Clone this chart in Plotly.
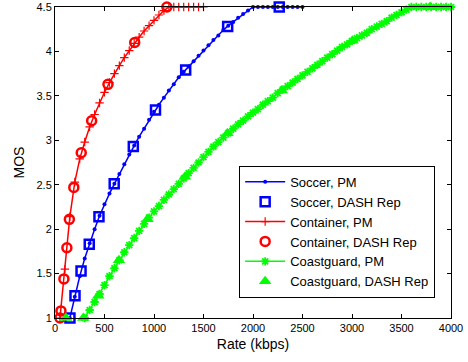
import plotly.graph_objects as go

# ---------------- data ----------------
soccer_pm_rate = [150, 200, 250, 300, 350, 400, 450, 500, 550, 600, 650, 700, 750, 800, 850, 900, 950,
                  1000, 1050, 1100, 1150, 1200, 1250, 1300, 1350, 1400, 1450, 1500, 1550, 1600, 1650,
                  1700, 1750, 1800, 1850, 1900, 1950, 2000, 2050, 2100, 2150, 2200, 2250, 2300, 2350,
                  2400, 2450, 2500]
soccer_pm_mos = [1.00, 1.24, 1.47, 1.67, 1.84, 2.00, 2.15, 2.28, 2.40, 2.51, 2.62, 2.73, 2.84, 2.94, 3.04,
                 3.13, 3.23, 3.32, 3.40, 3.48, 3.56, 3.63, 3.71, 3.77, 3.83, 3.89, 3.95, 4.01, 4.07, 4.13,
                 4.18, 4.24, 4.29, 4.33, 4.38, 4.42, 4.46, 4.50, 4.50, 4.50, 4.50, 4.50, 4.50, 4.50, 4.50,
                 4.50, 4.50, 4.50]
soccer_dash_rate = [151, 202, 263, 346, 444, 598, 791, 1015, 1320, 1744, 2265]
soccer_dash_mos = [1.00, 1.25, 1.53, 1.83, 2.14, 2.51, 2.93, 3.34, 3.79, 4.28, 4.50]

container_pm_rate = [50, 100, 150, 200, 250, 300, 350, 400, 450, 500, 550, 600, 650, 700, 750, 800, 850,
                     900, 950, 1000, 1050, 1100, 1150, 1200, 1250, 1300, 1350, 1400, 1450, 1500]
container_pm_mos = [1.00, 1.55, 2.14, 2.53, 2.79, 2.98, 3.15, 3.29, 3.42, 3.54, 3.65, 3.75, 3.84, 3.93,
                    4.01, 4.09, 4.16, 4.23, 4.29, 4.35, 4.41, 4.46, 4.50, 4.50, 4.50, 4.50, 4.50, 4.50,
                    4.50, 4.50]
container_dash_rate = [50, 60, 90, 120, 145, 190, 265, 370, 535, 805, 1130]
container_dash_mos = [1.00, 1.08, 1.44, 1.79, 2.11, 2.47, 2.86, 3.22, 3.63, 4.10, 4.50]

coast_pm_rate = [300, 350, 400, 450, 500, 550, 600, 650, 700, 750, 800, 850, 900, 950, 1000, 1050, 1100,
                 1150, 1200, 1250, 1300, 1350, 1400, 1450, 1500, 1550, 1600, 1650, 1700, 1750, 1800,
                 1850, 1900, 1950, 2000, 2050, 2100, 2150, 2200, 2250, 2300, 2350, 2400, 2450, 2500,
                 2550, 2600, 2650, 2700, 2750, 2800, 2850, 2900, 2950, 3000, 3050, 3100, 3150, 3200,
                 3250, 3300, 3350, 3400, 3450, 3500, 3550, 3600, 3650, 3700, 3750, 3800, 3850, 3900,
                 3950, 4000]
coast_pm_mos = [1.00, 1.09, 1.18, 1.27, 1.37, 1.47, 1.56, 1.65, 1.74, 1.82, 1.90, 1.98, 2.06, 2.13, 2.20,
                2.26, 2.33, 2.39, 2.45, 2.51, 2.57, 2.63, 2.69, 2.75, 2.81, 2.87, 2.93, 2.98, 3.03, 3.08,
                3.13, 3.18, 3.22, 3.27, 3.31, 3.35, 3.40, 3.44, 3.48, 3.53, 3.57, 3.61, 3.65, 3.69, 3.73,
                3.77, 3.81, 3.85, 3.89, 3.93, 3.97, 4.01, 4.05, 4.08, 4.12, 4.15, 4.18, 4.21, 4.25, 4.28,
                4.31, 4.34, 4.38, 4.41, 4.44, 4.47, 4.50, 4.50, 4.50, 4.50, 4.50, 4.50, 4.50, 4.50, 4.50]
coast_dash_rate = [111, 286, 437, 646, 934, 1313, 1742, 2290, 3005, 3788]
coast_dash_mos = [1.00, 1.00, 1.25, 1.65, 2.11, 2.59, 3.08, 3.56, 4.12, 4.50]

x_ticks = [0, 500, 1000, 1500, 2000, 2500, 3000, 3500, 4000]
y_ticks = [1, 1.5, 2, 2.5, 3, 3.5, 4, 4.5]

BLUE, RED, GREEN = "#0000FF", "#FF0000", "#00FF00"
FONT = "Liberation Sans, Arial"

fig = go.Figure()
fig.add_trace(go.Scatter(x=soccer_pm_rate, y=soccer_pm_mos, mode="lines+markers", name="Soccer, PM",
                         line=dict(color=BLUE, width=1.5),
                         marker=dict(symbol="circle", size=4, color=BLUE), cliponaxis=False))
fig.add_trace(go.Scatter(x=soccer_dash_rate, y=soccer_dash_mos, mode="markers", name="Soccer, DASH Rep",
                         marker=dict(symbol="square-open", size=9, color=BLUE, line=dict(width=2.5)),
                         cliponaxis=False))
fig.add_trace(go.Scatter(x=container_pm_rate, y=container_pm_mos, mode="lines+markers", name="Container, PM",
                         line=dict(color=RED, width=1.5),
                         marker=dict(symbol="cross-thin-open", size=6, color=RED, line=dict(width=1.2, color=RED)),
                         cliponaxis=False))
fig.add_trace(go.Scatter(x=container_dash_rate, y=container_dash_mos, mode="markers", name="Container, DASH Rep",
                         marker=dict(symbol="circle-open", size=9, color=RED, line=dict(width=2.5)),
                         cliponaxis=False))
fig.add_trace(go.Scatter(x=coast_pm_rate, y=coast_pm_mos, mode="lines+markers", name="Coastguard, PM",
                         line=dict(color=GREEN, width=1.5),
                         marker=dict(symbol="asterisk-open", size=7, color=GREEN, line=dict(width=1.8, color=GREEN)),
                         cliponaxis=False))
fig.add_trace(go.Scatter(x=coast_dash_rate, y=coast_dash_mos, mode="markers", name="Coastguard, DASH Rep",
                         marker=dict(symbol="triangle-up", size=11, color=GREEN),
                         cliponaxis=False))

axis_common = dict(showgrid=False, zeroline=False, showline=True, linecolor="black", linewidth=1,
                   mirror="allticks", ticks="inside", ticklen=4, tickcolor="black",
                   tickfont=dict(family=FONT, size=11, color="black"))
fig.update_xaxes(range=[0, 4000], tickvals=x_ticks, ticktext=[str(v) for v in x_ticks],
                 title=dict(text="Rate (kbps)", font=dict(family=FONT, size=14, color="black"),
                            standoff=5), **axis_common)
fig.update_yaxes(range=[1, 4.5], tickvals=y_ticks, ticktext=[f"{v:g}" for v in y_ticks],
                 title=dict(text="MOS", font=dict(family=FONT, size=14, color="black"),
                            standoff=8), **axis_common)

fig.update_layout(width=468, height=362, margin=dict(l=55, r=17, t=7, b=44, autoexpand=False),
                  paper_bgcolor="white", plot_bgcolor="white",
                  font=dict(family=FONT, color="black"),
                  legend=dict(x=0.96, y=0.065, xanchor="right", yanchor="bottom",
                              bgcolor="white", bordercolor="black", borderwidth=1,
                              font=dict(family=FONT, size=13, color="black"),
                              itemwidth=40, tracegroupgap=0))

fig.write_html("out.html", config={"displayModeBar": False},
               post_script="document.body.style.margin='0';document.body.style.padding='0';")
